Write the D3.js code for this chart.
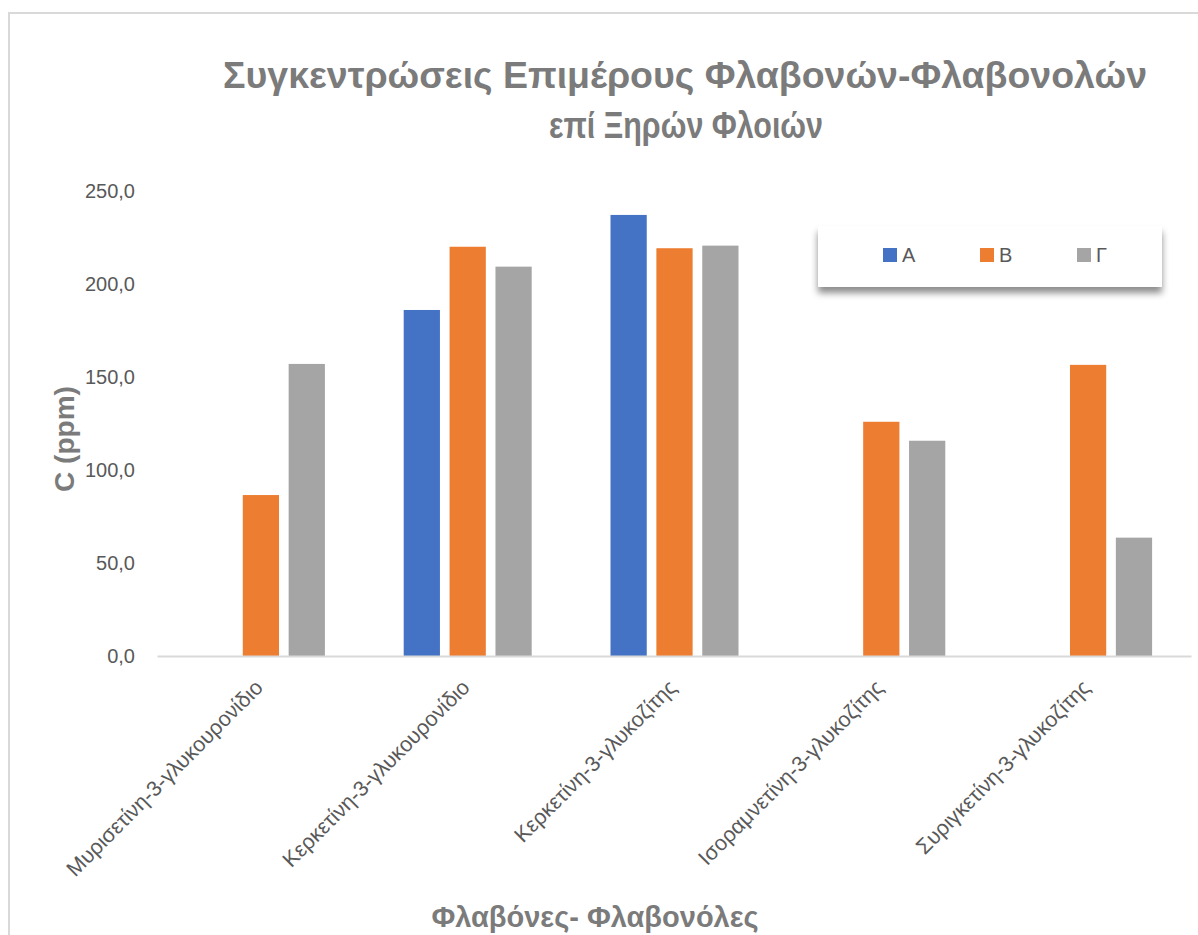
<!DOCTYPE html>
<html>
<head>
<meta charset="utf-8">
<script src="https://cdn.jsdelivr.net/npm/d3@7"></script>
<style>
  html, body { margin: 0; padding: 0; background: #fff; }
  svg { display: block; }
  text { font-family: "Liberation Sans", Arial, sans-serif; }
</style>
</head>
<body>
<svg id="chart" width="1198" height="935"></svg>
<script>
// Compounds on the x axis
const categories = [
  "Μυρισετίνη-3-γλυκουρονίδιο",
  "Κερκετίνη-3-γλυκουρονίδιο",
  "Κερκετίνη-3-γλυκοζίτης",
  "Ισοραμνετίνη-3-γλυκοζίτης",
  "Συριγκετίνη-3-γλυκοζίτης"
];
// Series names and values, C (ppm)
const seriesNames = ["A", "B", "Γ"];
const valuesA = [0, 186.3, 237.4, 0, 0];
const valuesB = [86.8, 220.3, 219.5, 126.2, 156.8];
const valuesG = [157.3, 209.6, 220.9, 116.0, 63.9];
const yTicks = [0, 50, 100, 150, 200, 250];

const colors = ["#4472C4", "#ED7D31", "#A5A5A5"];
const seriesValues = [valuesA, valuesB, valuesG];

const svg = d3.select("#chart");

// Chart area frame
svg.append("rect")
  .attr("x", 9).attr("y", 13)
  .attr("width", 1198).attr("height", 935)
  .attr("fill", "#fff")
  .attr("stroke", "#d9d9d9").attr("stroke-width", 2);

const plot = { left: 157.5, right: 1191.5, top: 191.5, bottom: 656.5 };

const x0 = d3.scaleBand().domain(categories).range([plot.left, plot.right]).paddingInner(0).paddingOuter(0);
const groupWidth = 128;
const x1 = d3.scaleBand().domain(seriesNames).range([0, groupWidth]).paddingInner(0.21).paddingOuter(0);
const y = d3.scaleLinear().domain([0, 250]).range([plot.bottom, plot.top]);

// Title, two lines, each fitted to its width
const title = svg.append("text")
  .attr("text-anchor", "middle")
  .attr("fill", "#7b7b7b")
  .attr("font-weight", "bold")
  .attr("font-size", 36);
title.append("tspan").attr("x", 685).attr("y", 88)
  .attr("textLength", 924).attr("lengthAdjust", "spacingAndGlyphs")
  .text("Συγκεντρώσεις Επιμέρους Φλαβονών-Φλαβονολών");
title.append("tspan").attr("x", 686).attr("y", 138)
  .attr("textLength", 274).attr("lengthAdjust", "spacingAndGlyphs")
  .text("επί Ξηρών Φλοιών");

// Y axis (labels only)
const yAxis = d3.axisLeft(y).tickValues(yTicks).tickSize(0).tickPadding(0)
  .tickFormat(d => d3.format(".1f")(d).replace(".", ","));
const yg = svg.append("g").attr("transform", `translate(135,0)`).call(yAxis);
yg.select(".domain").remove();
yg.selectAll("text")
  .attr("font-family", "Liberation Sans, Arial, sans-serif")
  .attr("font-size", 20)
  .attr("fill", "#595959");

// Y axis title
svg.append("text")
  .attr("transform", "translate(74,439) rotate(-90)")
  .attr("text-anchor", "middle")
  .attr("font-weight", "bold")
  .attr("font-size", 28)
  .attr("fill", "#7b7b7b")
  .text("C (ppm)");

// Bars
const groups = svg.append("g").selectAll("g")
  .data(categories)
  .join("g")
  .attr("transform", d => `translate(${x0(d) + (x0.bandwidth() - groupWidth) / 2},0)`);

groups.selectAll("rect")
  .data((d, i) => seriesNames.map((s, j) => ({ s, j, v: seriesValues[j][i] })))
  .join("rect")
  .attr("x", d => x1(d.s))
  .attr("width", x1.bandwidth())
  .attr("y", d => y(d.v))
  .attr("height", d => y(0) - y(d.v))
  .attr("fill", d => colors[d.j]);

// Baseline
svg.append("line")
  .attr("x1", plot.left).attr("x2", plot.right)
  .attr("y1", y(0)).attr("y2", y(0))
  .attr("stroke", "#d9d9d9").attr("stroke-width", 2);

// X axis category labels
const xAxis = d3.axisBottom(x0).tickSize(0).tickPadding(0);
const xg = svg.append("g").attr("transform", `translate(0,${y(0)})`).call(xAxis);
xg.select(".domain").remove();
xg.selectAll(".tick text")
  .attr("font-family", "Liberation Sans, Arial, sans-serif")
  .attr("font-size", 21.5)
  .attr("fill", "#595959")
  .attr("text-anchor", "end")
  .attr("dy", "0.35em")
  .attr("transform", "translate(-2,27) rotate(-45)");

// X axis title
svg.append("text")
  .attr("x", 595).attr("y", 927)
  .attr("text-anchor", "middle")
  .attr("font-weight", "bold")
  .attr("font-size", 29)
  .attr("fill", "#7b7b7b")
  .text("Φλαβόνες- Φλαβονόλες");

// Legend
const defs = svg.append("defs");
const f = defs.append("filter").attr("id", "legendShadow")
  .attr("x", "-10%").attr("y", "-20%").attr("width", "120%").attr("height", "160%");
f.append("feDropShadow").attr("dx", 0).attr("dy", 6).attr("stdDeviation", 3.5)
  .attr("flood-color", "#000").attr("flood-opacity", 0.45);

const legend = svg.append("g");
legend.append("rect")
  .attr("x", 818).attr("y", 226).attr("width", 344).attr("height", 61)
  .attr("fill", "#fff")
  .attr("filter", "url(#legendShadow)");

const legendX = [883, 980, 1077];
const items = legend.selectAll("g.item")
  .data(seriesNames)
  .join("g").attr("class", "item")
  .attr("transform", (d, i) => `translate(${legendX[i]},248)`);
items.append("rect").attr("width", 14).attr("height", 14).attr("fill", (d, i) => colors[i]);
items.append("text")
  .attr("x", 19).attr("y", 7).attr("dy", "0.35em")
  .attr("font-size", 20).attr("fill", "#595959")
  .text(d => d);
</script>
</body>
</html>
